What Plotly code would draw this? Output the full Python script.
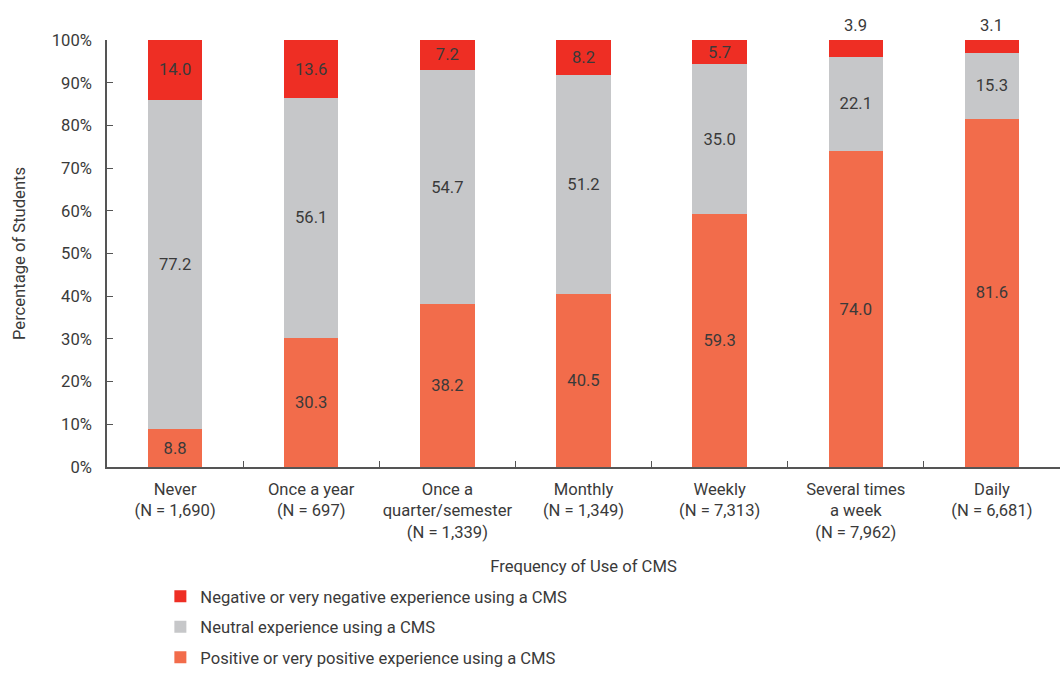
import plotly.graph_objects as go

categories = [
    "Never<br>(N = 1,690)",
    "Once a year<br>(N = 697)",
    "Once a<br>quarter/semester<br>(N = 1,339)",
    "Monthly<br>(N = 1,349)",
    "Weekly<br>(N = 7,313)",
    "Several times<br>a week<br>(N = 7,962)",
    "Daily<br>(N = 6,681)",
]
positive = [8.8, 30.3, 38.2, 40.5, 59.3, 74.0, 81.6]
neutral = [77.2, 56.1, 54.7, 51.2, 35.0, 22.1, 15.3]
negative = [14.0, 13.6, 7.2, 8.2, 5.7, 3.9, 3.1]

series_names = [
    "Positive or very positive experience using a CMS",
    "Neutral experience using a CMS",
    "Negative or very negative experience using a CMS",
]
colors = ["#F26C4B", "#C6C7C9", "#EE2E24"]
legend_ranks = [3, 2, 1]

FONT = "Roboto, Liberation Sans, sans-serif"
FS = 16.6
TEXT_COLOR = "#3a3a3a"
SMALL = 5.0  # segments thinner than this get their label above the bar

fig = go.Figure()
for i, (name, vals, col) in enumerate(zip(series_names, [positive, neutral, negative], colors)):
    texts = [f"{v:.1f}" if v >= SMALL else "" for v in vals]
    fig.add_trace(go.Bar(
        x=categories, y=vals, name=name,
        marker=dict(color=col, line=dict(width=0)),
        text=texts, textposition="inside", insidetextanchor="middle",
        textangle=0, constraintext="none",
        textfont=dict(family=FONT, size=FS, color=TEXT_COLOR),
        legendgroup=f"g{i}", legendrank=legend_ranks[i],
        hoverinfo="skip", width=0.4,
    ))

# labels of the thin top segments sit above the bars
for cat, p, n, g in zip(categories, positive, neutral, negative):
    if g < SMALL:
        fig.add_annotation(
            x=cat, y=p + n + g, text=f"{g:.1f}", showarrow=False,
            yanchor="bottom", yshift=3,
            font=dict(family=FONT, size=FS, color=TEXT_COLOR),
        )

fig.update_layout(
    barmode="stack",
    width=1062, height=696,
    margin=dict(l=107, r=2, t=40, b=229),
    paper_bgcolor="white", plot_bgcolor="white",
    font=dict(family=FONT, size=FS, color=TEXT_COLOR),
    showlegend=True,
    legend=dict(
        orientation="v", traceorder="grouped", tracegroupgap=6,
        x=0.056, xanchor="left", y=-0.262, yanchor="top",
        font=dict(family=FONT, size=FS, color=TEXT_COLOR),
        itemclick=False, itemdoubleclick=False,
    ),
    xaxis=dict(
        showline=True, linecolor="#555555", linewidth=1.5,
        ticks="inside", tickson="boundaries", ticklen=6, tickcolor="#555555",
        ticklabelstandoff=6, tickangle=0,
        tickfont=dict(family=FONT, size=FS, color=TEXT_COLOR),
        title=dict(text="Frequency of Use of CMS", standoff=20,
                   font=dict(family=FONT, size=FS, color=TEXT_COLOR)),
        showgrid=False,
    ),
    yaxis=dict(
        range=[0, 100], tickvals=list(range(0, 101, 10)),
        ticktext=[f"{v}%" for v in range(0, 101, 10)],
        showline=True, linecolor="#555555", linewidth=1.5,
        ticks="inside", ticklen=6, tickcolor="#555555",
        ticklabelstandoff=10,
        tickfont=dict(family=FONT, size=FS, color=TEXT_COLOR),
        title=dict(text="Percentage of Students", standoff=22,
                   font=dict(family=FONT, size=FS, color=TEXT_COLOR)),
        showgrid=False, zeroline=False,
    ),
)

fig.write_html("out.html")
